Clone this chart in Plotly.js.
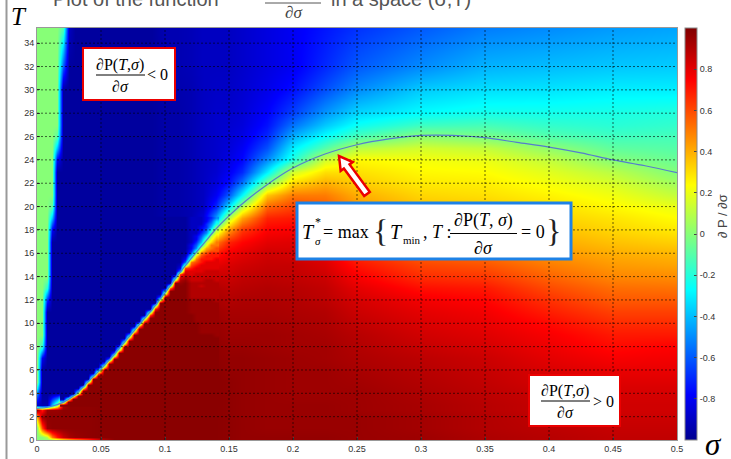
<!DOCTYPE html>
<html>
<head>
<meta charset="utf-8">
<script src="https://cdn.plot.ly/plotly-3.0.1.min.js"></script>
<style>
html,body{margin:0;padding:0;background:#fff;overflow:hidden}
#chart{width:731px;height:459px}
</style>
</head>
<body>
<div id="chart"></div>
<script>
// ---------- data ----------
// sigma (x) positions of the sampled vertical profiles (whole plane)
const sigma = [0, 0.004, 0.008, 0.012, 0.016, 0.02, 0.025, 0.03, 0.04, 0.05, 0.06, 0.07, 0.08, 0.09, 0.1,
               0.11, 0.12, 0.13, 0.14, 0.15, 0.16, 0.18, 0.2, 0.225, 0.25, 0.3, 0.35, 0.4, 0.45, 0.5];
// T (y) positions of the samples in each profile
const tRows = [0, 0.3, 1, 2, 2.6, 3,
               4, 5, 6, 7, 8, 9, 10, 11, 12, 13,
               14, 15, 16, 17, 18, 19, 20, 21, 22, 23,
               24, 25, 26, 27, 28, 30, 32, 35.3];

// dP/dsigma read along each sigma column (bottom -> top)
const p000 = [0,0,0,0.4,0.95,-0.9,  -0.5,0,0,0,0,0,0,0,0,0,  0,0,0,0,0,0,0,0,0,0,  0,0,0,0,0,0,0,0];
const p004 = [0,0,0.6,0.95,0.7,-0.93,  -0.97,-0.97,-0.97,-0.8,-0.2,0,0,0,0,0,  0,0,0,0,0,0,0,0,0,0,  0,0,0,0,0,0,0,0];
const p008 = [0,0.1,0.95,0.97,0.95,-0.93,  -0.97,-0.97,-0.97,-0.97,-0.97,-0.97,-0.97,-0.97,-0.7,-0.2,  0,0,0,0,0,0,0,0,0,0,  0,0,0,0,0,0,0,0];
const p012 = [0,0.5,0.97,0.97,0.95,-0.4,  -0.97,-0.97,-0.97,-0.97,-0.97,-0.97,-0.97,-0.97,-0.97,-0.97,  -0.97,-0.97,-0.97,-0.97,-0.8,-0.4,-0.1,0,0,0,  0,0,0,0,0,0,0,0];
const p016 = [0.05,0.7,0.97,0.97,0.95,0,  -0.97,-0.97,-0.97,-0.97,-0.97,-0.97,-0.97,-0.97,-0.97,-0.97,  -0.97,-0.97,-0.97,-0.97,-0.97,-0.97,-0.97,-0.97,-0.97,-0.97,  -0.8,-0.4,-0.1,0,0,0,0,0];
const p020 = [0.15,0.85,0.97,0.97,0.97,0.9,  -0.97,-0.97,-0.97,-0.97,-0.97,-0.97,-0.97,-0.97,-0.97,-0.97,  -0.97,-0.97,-0.97,-0.97,-0.97,-0.97,-0.97,-0.97,-0.97,-0.97,  -0.97,-0.97,-0.97,-0.97,-0.97,-0.97,-0.6,-0.1];
const p025 = [0.25,0.92,0.97,0.97,0.97,0.97,  -0.97,-0.97,-0.97,-0.97,-0.97,-0.97,-0.97,-0.97,-0.97,-0.97,  -0.97,-0.97,-0.97,-0.97,-0.97,-0.97,-0.97,-0.97,-0.97,-0.97,  -0.97,-0.97,-0.97,-0.97,-0.97,-0.97,-0.97,-0.9];
const p030 = [0.35,0.95,0.97,0.97,0.97,0.97,  -0.4,-0.97,-0.97,-0.97,-0.97,-0.97,-0.97,-0.97,-0.97,-0.97,  -0.97,-0.97,-0.97,-0.97,-0.97,-0.97,-0.97,-0.97,-0.97,-0.97,  -0.97,-0.97,-0.97,-0.97,-0.97,-0.97,-0.97,-0.97];
const p040 = [0.55,0.97,0.97,0.97,0.97,0.97,  0.97,-0.4,-0.97,-0.97,-0.97,-0.97,-0.97,-0.97,-0.97,-0.97,  -0.97,-0.97,-0.97,-0.97,-0.97,-0.97,-0.97,-0.97,-0.97,-0.97,  -0.97,-0.97,-0.97,-0.97,-0.97,-0.97,-0.97,-0.97];
const p050 = [0.85,0.98,0.98,0.98,0.98,0.98,  0.98,0.98,0.5,-0.97,-0.97,-0.97,-0.97,-0.97,-0.97,-0.97,  -0.97,-0.97,-0.97,-0.97,-0.97,-0.97,-0.97,-0.97,-0.97,-0.97,  -0.97,-0.97,-0.97,-0.97,-0.97,-0.97,-0.97,-0.97];
const p060 = [0.98,0.98,0.98,0.98,0.98,0.98,  0.98,0.98,0.98,0.7,-0.97,-0.97,-0.97,-0.97,-0.97,-0.97,  -0.97,-0.97,-0.97,-0.97,-0.97,-0.97,-0.97,-0.97,-0.97,-0.97,  -0.97,-0.97,-0.97,-0.97,-0.97,-0.97,-0.97,-0.97];
const p070 = [0.98,0.98,0.98,0.98,0.98,0.98,  0.98,0.98,0.98,0.98,0.98,-0.6,-0.97,-0.97,-0.97,-0.97,  -0.97,-0.97,-0.97,-0.97,-0.97,-0.97,-0.97,-0.97,-0.97,-0.97,  -0.97,-0.97,-0.97,-0.97,-0.97,-0.97,-0.97,-0.97];
const p080 = [0.98,0.98,0.98,0.98,0.98,0.98,  0.98,0.98,0.98,0.98,0.98,0.98,-0.5,-0.97,-0.97,-0.97,  -0.97,-0.97,-0.97,-0.97,-0.97,-0.97,-0.97,-0.97,-0.97,-0.97,  -0.97,-0.97,-0.97,-0.97,-0.97,-0.97,-0.97,-0.97];
const p090 = [0.98,0.98,0.98,0.98,0.98,0.98,  0.98,0.98,0.98,0.98,0.98,0.98,0.98,0.5,-0.97,-0.97,  -0.97,-0.97,-0.97,-0.97,-0.97,-0.97,-0.97,-0.97,-0.97,-0.97,  -0.97,-0.97,-0.97,-0.97,-0.97,-0.97,-0.97,-0.97];
const p100 = [0.98,0.98,0.98,0.98,0.98,0.98,  0.98,0.98,0.98,0.98,0.98,0.98,0.98,0.98,0.95,-0.9,  -0.95,-0.95,-0.95,-0.95,-0.95,-0.95,-0.95,-0.95,-0.95,-0.95,  -0.95,-0.95,-0.95,-0.95,-0.95,-0.95,-0.94,-0.93];
const p110 = [0.98,0.98,0.98,0.98,0.98,0.98,  0.98,0.98,0.98,0.98,0.98,0.98,0.98,0.98,0.95,0.9,  0.6,-0.9,-0.95,-0.95,-0.95,-0.95,-0.95,-0.95,-0.95,-0.95,  -0.95,-0.95,-0.95,-0.95,-0.95,-0.94,-0.93,-0.93];
const p120 = [0.98,0.98,0.98,0.98,0.98,0.98,  0.98,0.98,0.98,0.98,0.98,0.98,0.97,0.96,0.95,0.92,  0.85,0.6,-0.5,-0.88,-0.93,-0.93,-0.93,-0.93,-0.93,-0.93,  -0.93,-0.93,-0.93,-0.93,-0.93,-0.93,-0.92,-0.92];
const p130 = [0.98,0.98,0.98,0.98,0.98,0.98,  0.98,0.98,0.98,0.97,0.97,0.97,0.96,0.95,0.93,0.9,  0.86,0.78,0.55,-0.1,-0.7,-0.85,-0.9,-0.9,-0.9,-0.9,  -0.9,-0.9,-0.9,-0.9,-0.9,-0.9,-0.9,-0.9];
const p140 = [0.98,0.98,0.98,0.98,0.98,0.98,  0.98,0.98,0.98,0.97,0.97,0.96,0.95,0.94,0.92,0.9,  0.86,0.8,0.7,0.5,0.1,-0.45,-0.7,-0.8,-0.85,-0.87,  -0.88,-0.88,-0.88,-0.88,-0.88,-0.89,-0.9,-0.9];
const p150 = [0.97,0.97,0.97,0.97,0.97,0.97,  0.97,0.97,0.96,0.96,0.95,0.94,0.93,0.92,0.9,0.88,  0.85,0.82,0.77,0.68,0.45,0.1,-0.3,-0.6,-0.75,-0.8,  -0.83,-0.85,-0.86,-0.87,-0.88,-0.89,-0.9,-0.9];
const p160 = [0.96,0.96,0.96,0.96,0.96,0.96,  0.96,0.96,0.96,0.96,0.95,0.94,0.93,0.92,0.91,0.89,  0.87,0.84,0.8,0.74,0.64,0.42,0.1,-0.28,-0.55,-0.7,  -0.77,-0.8,-0.83,-0.85,-0.86,-0.87,-0.88,-0.88];
const p180 = [0.96,0.96,0.95,0.95,0.95,0.95,  0.95,0.95,0.95,0.95,0.94,0.94,0.93,0.92,0.91,0.9,  0.88,0.86,0.84,0.8,0.75,0.68,0.55,0.35,-0.02,-0.3,  -0.5,-0.62,-0.7,-0.75,-0.78,-0.82,-0.84,-0.84];
const p200 = [0.96,0.96,0.95,0.95,0.95,0.95,  0.94,0.94,0.94,0.94,0.93,0.93,0.92,0.91,0.9,0.89,  0.87,0.86,0.83,0.81,0.76,0.7,0.62,0.5,0.32,0.15,  -0.2,-0.3,-0.42,-0.55,-0.65,-0.75,-0.8,-0.8];
const p225 = [0.96,0.96,0.95,0.95,0.95,0.95,  0.94,0.94,0.94,0.93,0.93,0.92,0.91,0.9,0.88,0.87,  0.85,0.82,0.79,0.75,0.7,0.64,0.57,0.5,0.4,0.3,  0.15,-0.1,-0.25,-0.38,-0.48,-0.62,-0.7,-0.74];
const p250 = [0.95,0.95,0.95,0.95,0.94,0.94,  0.94,0.93,0.92,0.91,0.9,0.89,0.87,0.85,0.83,0.8,  0.76,0.71,0.66,0.6,0.55,0.5,0.45,0.4,0.34,0.3,  0.25,0.1,-0.12,-0.25,-0.35,-0.5,-0.6,-0.68];
const p300 = [0.94,0.94,0.93,0.93,0.92,0.92,  0.91,0.9,0.89,0.88,0.86,0.84,0.82,0.8,0.77,0.72,  0.66,0.61,0.55,0.5,0.45,0.41,0.36,0.32,0.28,0.25,  0.22,0.15,0.02,-0.15,-0.27,-0.37,-0.5,-0.6];
const p350 = [0.91,0.91,0.9,0.9,0.89,0.89,  0.88,0.87,0.86,0.85,0.83,0.81,0.79,0.77,0.74,0.7,  0.64,0.58,0.52,0.47,0.42,0.38,0.34,0.3,0.27,0.24,  0.2,0.12,-0.02,-0.13,-0.23,-0.33,-0.42,-0.53];
const p400 = [0.89,0.89,0.88,0.87,0.86,0.86,  0.85,0.83,0.82,0.8,0.78,0.76,0.73,0.69,0.65,0.6,  0.55,0.5,0.45,0.41,0.37,0.33,0.3,0.26,0.22,0.18,  0.12,0.02,-0.1,-0.17,-0.23,-0.32,-0.4,-0.5];
const p450 = [0.87,0.87,0.86,0.85,0.84,0.84,  0.83,0.81,0.79,0.76,0.73,0.7,0.66,0.62,0.57,0.53,  0.48,0.44,0.4,0.36,0.32,0.29,0.25,0.21,0.16,0.1,  0.0,-0.08,-0.14,-0.19,-0.22,-0.3,-0.38,-0.47];
const p500 = [0.87,0.87,0.86,0.85,0.84,0.84,  0.83,0.81,0.79,0.77,0.75,0.7,0.66,0.62,0.57,0.52,  0.47,0.42,0.38,0.33,0.28,0.24,0.2,0.12,0.05,-0.01,  -0.06,-0.1,-0.13,-0.17,-0.2,-0.3,-0.37,-0.45];

// finer reading of the sharp blue/red edge (sigma 0.02..0.14, T 3..19)
const fineSigma = [0.02,0.024,0.028,0.032,0.036,0.04,0.044,0.048,0.052,0.056,0.06,0.064,0.068,0.072,0.076,0.08,
                   0.084,0.088,0.092,0.096,0.1,0.104,0.108,0.112,0.116,0.12,0.124,0.128,0.132,0.136,0.14];
const fineT = [3,3.25,3.5,3.75,4,4.25,4.5,4.75,5,5.25,5.5,5.75,6,6.25,6.5,6.75,7,7.25,7.5,7.75,8,8.25,8.5,8.75,
               9,9.25,9.5,9.75,10,10.25,10.5,10.75,11,11.25,11.5,11.75,12,12.25,12.5,12.75,13,13.25,13.5,13.75,
               14,14.25,14.5,14.75,15,15.25,15.5,15.75,16,16.25,16.5,16.75,17,17.25,17.5,17.75,18,18.25,18.5,18.75,19];
// level letters: A=-0.97 ... K=0 ... W=0.98
const levelCode = 'ABCDEFGHIJKLMNOPQRSTUVW';
const levelValue = [-0.97,-0.9,-0.8,-0.7,-0.6,-0.5,-0.4,-0.3,-0.2,-0.1,0,0.1,0.2,0.3,0.4,0.5,0.6,0.7,0.8,0.85,0.9,0.95,0.98];
const fineRows = [
  'WWWWWWWWWWWWWWWWWWWWWWW|WWWWWWWW',
  'IWWWWWWWWWWWWWWWWWWWWWW|WWWWWWWW',
  'AKWWWWWWWWWWWWWWWWWWWWW|WWWWWWWW',
  'AAKWWWWWWWWWWWWWWWWWWWW|WWWWWWWW',
  'AAANWWWWWWWWWWWWWWWWWWW|WWWWWWWW',
  'AAAGWWWWWWWWWWWWWWWWWWW|WWWWWWWW',
  'AAAAMWWWWWWWWWWWWWWWWWW|WWWWWWWW',
  'AAAAAWWWWWWWWWWWWWWWWWW|WWWWWWWW',
  'AAAAAKWWWWWWWWWWWWWWWWW|WWWWWWWW',
  'AAAAAAWWWWWWWWWWWWWWWWW|WWWWWWWW',
  'AAAAAAIWWWWWWWWWWWWWWWW|WWWWWWWW',
  'AAAAAAAOWWWWWWWWWWWWWWW|WWWWWWWW',
  'AAAAAAAGWWWWWWWWWWWWWWW|WWWWWWWW',
  'AAAAAAAAMWWWWWWWWWWWWWW|WWWWWWWW',
  'AAAAAAAAFWWWWWWWWWWWWWW|WWWWWWWW',
  'AAAAAAAAAMWWWWWWWWWWWWW|WWWWWWWW',
  'AAAAAAAAAEWWWWWWWWWWWWW|WWWWWWWW',
  'AAAAAAAAAALWWWWWWWWWWWW|WWWWWWWW',
  'AAAAAAAAAAEWWWWWWWWWWWW|WWWWWWWW',
  'AAAAAAAAAAALWWWWWWWWWWW|WWWWWWWW',
  'AAAAAAAAAAAFWWWWWWWWWWW|WWWWWWWW',
  'AAAAAAAAAAAAMWWWWWWWWWW|WWWWWWWW',
  'AAAAAAAAAAAAGWWWWWWWWWW|WWWWWWWW',
  'AAAAAAAAAAAAANWWWWWWWWW|WWWWWWWW',
  'AAAAAAAAAAAAAGWWWWWWWWW|WWWWWWWV',
  'AAAAAAAAAAAAAANWWWWWWWW|WWWWVVVV',
  'AAAAAAAAAAAAAAHWWWWWWWW|WWWWVVVV',
  'AAAAAAAAAAAAAAAOWWWWWWW|WWWWVVVV',
  'AAAAAAAAAAAAAAAIWWWWWWW|WWWWVVVV',
  'AAAAAAAAAAAAAAAAPWWWWWW|WWWVVVVV',
  'AAAAAAAAAAAAAAAAIWWWWWW|WWWVVVVV',
  'AAAAAAAAAAAAAAAAAQWWWWW|WWWVVVVV',
  'AAAAAAAAAAAAAAAAAJWWWWW|WWVVVVVV',
  'AAAAAAAAAAAAAAAAAARWWWW|WWVVVVVV',
  'AAAAAAAAAAAAAAAAAAKWWWW|WWVVVVVV',
  'AAAAAAAAAAAAAAAAAAAWWWW|WWVVVVVV',
  'AAAAAAAAAAAAAAAAAAALWWW|WWVVVVVU',
  'AAAAAAAAAAAAAAAAAAAEWWW|WWUUUUUU',
  'AAAAAAAAAAAAAAAAAAAAMWW|WWUUUUUU',
  'AAAAAAAAAAAAAAAAAAAAHWW|WWUUUUUU',
  'AAAAAAAAAAAAAAAAAAAAAPW|WWUUUUUU',
  'AAAAAAAAAAAAAAAAAAAAAJW|WWUUTUUU',
  'AAAAAAAAAAAAAAAAAAAAAAW|VWUUUUUU',
  'AAAAAAAAAAAAAAAAAAAAAAL|UVTTTUUT',
  'AAAAAAAAAAAAAAAAAAAAAAF|SUTTTTTT',
  'AAAAAAAAAAAAAAAAAAAAAAA|QTSTTTTT',
  'AAAAAAAAAAAAAAAAAAAAAAA|FSSSSTTT',
  'AAAAAAAAAAAAAAAAAAAAAAA|CQRSSSSS',
  'AAAAAAAAAAAAAAAAAAAAAAA|BJQRSSSS',
  'AAAAAAAAAAAAAAAAAAAAAAA|AEPQRSSS',
  'AAAAAAAAAAAAAAAAAAAAAAA|ACKPRRRS',
  'AAAAAAAAAAAAAAAAAAAAAAA|ABHNQRRR',
  'AAAAAAAAAAAAAAAAAAAAAAA|AAEKPQRR',
  'AAAAAAAAAAAAAAAAAAAAAAA|AADINPQQ',
  'AAAAAAAAAAAAAAAAAAAAAAA|AACFLOPQ',
  'AAAAAAAAAAAAAAAAAAAAAAA|AACEIMPP',
  'AAAAAAAAAAAAAAAAAAAAAAA|AABDGLNP',
  'AAAAAAAAAAAAAAAAAAAAAAA|AABCFJMO',
  'AAAAAAAAAAAAAAAAAAAAAAA|AABCEHLN',
  'AAAAAAAAAAAAAAAAAAAAAAA|AABBDFJM',
  'AAAAAAAAAAAAAAAAAAAAAAA|AABBCEIL',
  'AAAAAAAAAAAAAAAAAAAAAAA|AABBCDGK',
  'AAAAAAAAAAAAAAAAAAAAAAA|AABBBDFI',
  'AAAAAAAAAAAAAAAAAAAAAAA|AABBBCEH',
  'AAAAAAAAAAAAAAAAAAAAAAA|AABBBCDF'
];

// curve T*_sigma (zero level of dP/dsigma)
const curveSigma = [0, 0.01, 0.02, 0.03, 0.04, 0.05, 0.06, 0.07, 0.08, 0.09, 0.1, 0.11, 0.12, 0.13, 0.14, 0.15,
                    0.16, 0.18, 0.2, 0.225, 0.25, 0.275, 0.3, 0.325, 0.35, 0.375, 0.4, 0.425, 0.45, 0.475, 0.5];
const curveT = [2.7, 2.85, 3.2, 3.9, 5.0, 6.1, 7.3, 8.6, 9.9, 11.2, 12.6, 14.1, 15.5, 16.8, 18.1, 19.2,
                20.2, 21.9, 23.3, 24.5, 25.3, 25.8, 26.1, 26.1, 25.9, 25.5, 25.1, 24.6, 24.0, 23.5, 22.9];

// ticks
const xTicks = [0, 0.05, 0.1, 0.15, 0.2, 0.25, 0.3, 0.35, 0.4, 0.45, 0.5];
const xTickText = ['0','0.05','0.1','0.15','0.2','0.25','0.3','0.35','0.4','0.45','0.5'];
const yTicks = [0,2,4,6,8,10,12,14,16,18,20,22,24,26,28,30,32,34];
const cbTicks = [-0.8,-0.6,-0.4,-0.2,0,0.2,0.4,0.6,0.8];
const cbTickText = ['-0.8','-0.6','-0.4','-0.2','0','0.2','0.4','0.6','0.8'];

// ---------- drawing ----------
const zCols = [p000,p004,p008,p012,p016,p020,p025,p030,p040,p050,p060,p070,p080,p090,p100,
               p110,p120,p130,p140,p150,p160,p180,p200,p225,p250,p300,p350,p400,p450,p500];
zCols.forEach((c, i) => { if (c.length !== tRows.length) throw new Error('column ' + i + ' has ' + c.length); });

const fineZ = fineRows.map((r, i) => {
  const parts = r.split('|');
  if (parts[0].length !== 23 || parts[1].length !== 8) throw new Error('fine row ' + i + ' bad length ' + parts[0].length + '/' + parts[1].length);
  return (parts[0] + parts[1]).split('').map(ch => levelValue[levelCode.indexOf(ch)]);
});
if (fineZ.length !== fineT.length) throw new Error('fine rows ' + fineZ.length);

const jet = [[0,'rgb(0,0,143)'],[0.111,'rgb(0,0,255)'],[0.365,'rgb(0,255,255)'],
             [0.492,'rgb(127,255,127)'],[0.619,'rgb(255,255,0)'],[0.873,'rgb(255,0,0)'],[1,'rgb(128,0,0)']];

const ML = 37, MT = 28, PW = 640, PH = 412;
const px = x => (x - ML) / PW;
const py = y => (MT + PH - y) / PH;
const SERIF = 'Liberation Serif, Times New Roman, serif';
const SANS = 'Liberation Sans, Arial, sans-serif';

function ann(text, x, y, size, opts) {
  return Object.assign({
    text: text, xref: 'paper', yref: 'paper', x: px(x), y: py(y),
    xanchor: 'center', yanchor: 'middle', showarrow: false, borderpad: 0,
    font: {family: SERIF, size: size, color: '#000'}
  }, opts || {});
}
function lineShape(x0, y0, x1, y1, color, width) {
  return {type: 'line', xref: 'paper', yref: 'paper', x0: px(x0), y0: py(y0), x1: px(x1), y1: py(y1),
          line: {color: color, width: width}, layer: 'above'};
}
function rectShape(x0, y0, x1, y1, color, width) {
  return {type: 'rect', xref: 'paper', yref: 'paper', x0: px(x0), y0: py(y0), x1: px(x1), y1: py(y1),
          fillcolor: '#ffffff', line: {color: color, width: width}, layer: 'above'};
}

const shapes = [];
// dotted grid above the image
xTicks.slice(1, -1).forEach(v => shapes.push({type: 'line', xref: 'x', yref: 'paper', x0: v, x1: v, y0: 0, y1: 1,
  line: {color: 'rgba(0,0,0,0.6)', width: 1, dash: '2px,2px'}, layer: 'above'}));
yTicks.slice(1).forEach(v => shapes.push({type: 'line', xref: 'paper', yref: 'y', x0: 0, x1: 1, y0: v, y1: v,
  line: {color: 'rgba(0,0,0,0.6)', width: 1, dash: '2px,2px'}, layer: 'above'}));

// figure left border
shapes.push(lineShape(6.5, 0, 6.5, 459, '#9a9a9a', 2));
// title fraction bar
shapes.push(lineShape(265, 3, 321, 3, '#555', 1));

// boxes
shapes.push(rectShape(83, 48, 175, 100, 'rgb(235,0,0)', 2));
shapes.push(lineShape(96, 75, 145, 75, '#000', 1));
shapes.push(rectShape(529, 375, 620, 426, 'rgb(235,0,0)', 2));
shapes.push(lineShape(541, 401, 590, 401, '#000', 1));
shapes.push(rectShape(297, 203, 571, 259, 'rgb(30,130,230)', 3));
shapes.push(lineShape(450, 233.5, 517, 233.5, '#000', 1));

// arrow (white with red outline)
(function () {
  const tip = [339, 156], tail = [367, 194];
  const dx = tip[0] - tail[0], dy = tip[1] - tail[1], len = Math.hypot(dx, dy);
  const u = [dx / len, dy / len], n = [-u[1], u[0]];
  const sw = 3.5, hw = 7.5, hl = 13;
  const hb = [tip[0] - hl * u[0], tip[1] - hl * u[1]];
  const P = (b, k) => [b[0] + k * n[0], b[1] + k * n[1]];
  const pts = [P(tail, sw), P(hb, sw), P(hb, hw), tip, P(hb, -hw), P(hb, -sw), P(tail, -sw)];
  const path = pts.map((p, i) => (i ? 'L' : 'M') + px(p[0]).toFixed(5) + ',' + py(p[1]).toFixed(5)).join(' ') + ' Z';
  shapes.push({type: 'path', xref: 'paper', yref: 'paper', path: path, fillcolor: '#ffffff',
               line: {color: 'rgb(235,0,0)', width: 2.5}, layer: 'above'});
})();

const annotations = [
  // clipped title
  ann('Plot of the function', 52, -1, 20, {xanchor: 'left', font: {family: SANS, size: 20, color: '#555'}}),
  ann('∂P(<i>T</i>,<i>σ</i>)', 293, -9, 17, {font: {family: SERIF, size: 17, color: '#444'}}),
  ann('∂<i>σ</i>', 293, 13, 17, {font: {family: SERIF, size: 17, color: '#444'}}),
  ann('in a space (σ,T)', 330, -1, 20, {xanchor: 'left', font: {family: SANS, size: 20, color: '#555'}}),
  // axis labels
  ann('<i>T</i>', 19, 16, 25),
  ann('<i>σ</i>', 713, 444, 31),
  ann('∂ P / ∂σ', 722, 216, 13, {textangle: -90, font: {family: SANS, size: 13, color: '#444'}}),
  // top-left box
  ann('∂P(<i>T</i>,<i>σ</i>)', 120, 65, 16),
  ann('∂<i>σ</i>', 120, 86, 16),
  ann('&lt; 0', 157, 75, 16),
  // bottom-right box
  ann('∂P(<i>T</i>,<i>σ</i>)', 565, 391, 16),
  ann('∂<i>σ</i>', 565, 412, 16),
  ann('&gt; 0', 603, 401, 16),
  // central formula
  ann('<i>T</i>', 308, 232, 20),
  ann('*', 318, 222, 12),
  ann('<i>σ</i>', 318, 241, 11),
  ann('= max', 346, 232, 18),
  ann('{', 380, 231, 32, {font: {family: SERIF, size: 32, color: '#222'}}),
  ann('<i>T</i>', 396, 232, 20),
  ann('min', 412, 240, 11),
  ann(', <i>T</i> :', 437, 232, 18),
  ann('∂P(<i>T</i>, <i>σ</i>)', 483, 220, 18),
  ann('∂<i>σ</i>', 483, 248, 18),
  ann('= 0', 533, 232, 18),
  ann('}', 553, 231, 32, {font: {family: SERIF, size: 32, color: '#222'}})
];

const heat = {
  type: 'heatmap', x: sigma, y: tRows, z: zCols, transpose: true,
  zmin: -1, zmax: 1, zsmooth: 'best', colorscale: jet, hoverinfo: 'skip',
  colorbar: {
    x: (685 - ML) / PW, xanchor: 'left', xpad: 0, ypad: 0,
    y: 0.5, yanchor: 'middle', len: 1, lenmode: 'fraction',
    thickness: 12, thicknessmode: 'pixels',
    outlinewidth: 1, outlinecolor: '#888',
    tickvals: cbTicks, ticktext: cbTickText, ticks: 'inside', ticklen: 3, tickcolor: '#444',
    tickfont: {family: SANS, size: 9, color: '#333'}
  }
};
const heatFine = {
  type: 'heatmap', x: fineSigma, y: fineT, z: fineZ,
  zmin: -1, zmax: 1, zsmooth: 'best', colorscale: jet, showscale: false, hoverinfo: 'skip'
};
const curve = {
  type: 'scatter', mode: 'lines', x: curveSigma, y: curveT,
  line: {color: 'rgb(85,125,205)', width: 1.2, shape: 'spline'}, hoverinfo: 'skip'
};

const axisCommon = {
  ticks: 'inside', ticklen: 3, tickcolor: '#444', showgrid: false, zeroline: false,
  showline: true, mirror: true, linecolor: '#999', linewidth: 1, layer: 'above traces',
  tickfont: {family: SANS, size: 9, color: '#333'}, fixedrange: true
};

const layout = {
  width: 731, height: 459,
  margin: {l: ML, r: 731 - ML - PW, t: MT, b: 459 - MT - PH, pad: 0},
  paper_bgcolor: '#ffffff', plot_bgcolor: '#ffffff', showlegend: false,
  font: {family: SANS, size: 9, color: '#333'},
  xaxis: Object.assign({range: [0, 0.5], tickvals: xTicks, ticktext: xTickText}, axisCommon),
  yaxis: Object.assign({range: [0, 35.3], tickvals: yTicks}, axisCommon),
  shapes: shapes, annotations: annotations
};

Plotly.newPlot('chart', [heat, heatFine, curve], layout, {staticPlot: true, displayModeBar: false});
</script>
</body>
</html>
